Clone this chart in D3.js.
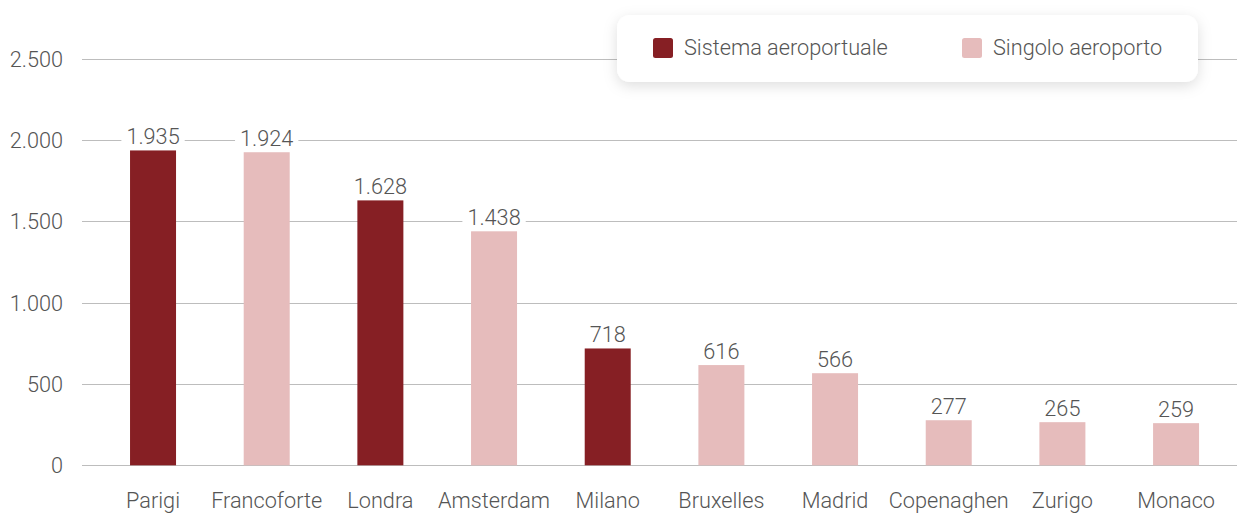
<!DOCTYPE html>
<html><head><meta charset="utf-8">
<script src="https://cdn.jsdelivr.net/npm/d3@7"></script>
<style>
html,body{margin:0;padding:0;background:#fff;}
svg{display:block;font-family:Roboto,"Noto Sans",sans-serif;font-weight:300;}
</style></head>
<body>
<svg id="chart" width="1237" height="513"></svg>
<script>
const categories = ["Parigi","Francoforte","Londra","Amsterdam","Milano","Bruxelles","Madrid","Copenaghen","Zurigo","Monaco"];
const values = [1935,1924,1628,1438,718,616,566,277,265,259];
const types = ["Sistema aeroportuale","Singolo aeroporto","Sistema aeroportuale","Singolo aeroporto","Sistema aeroportuale","Singolo aeroporto","Singolo aeroporto","Singolo aeroporto","Singolo aeroporto","Singolo aeroporto"];
const seriesNames = ["Sistema aeroportuale","Singolo aeroporto"];
const seriesColors = ["#861F24","#E6BCBC"];
const yTicks = [0,500,1000,1500,2000,2500];

const FS = 21.7;
const fmt = v => d3.format(",")(v).replace(/,/g,".");
const svg = d3.select("#chart");
const gridLeft = 82, gridRight = 1237;
const y = d3.scaleLinear().domain([0,2500]).range([465.3,58.5]);
const x = d3.scaleBand().domain(categories).range([96.2,1232.9]).padding(0);
const barW = 46;
const color = d3.scaleOrdinal().domain(seriesNames).range(seriesColors);
const textCol = "#555";

// y axis labels
const yAxis = d3.axisLeft(y).tickValues(yTicks).tickFormat(fmt).tickSize(0).tickPadding(0);
const ga = svg.append("g").attr("transform",`translate(63,0)`).call(yAxis);
ga.select(".domain").remove();
ga.selectAll("text").attr("font-size",FS).attr("fill",textCol).attr("font-family","Roboto").attr("font-weight",300).attr("dy","0.35em");

// grid
svg.append("g").selectAll("line").data(yTicks).join("line")
  .attr("x1",gridLeft).attr("x2",gridRight)
  .attr("y1",d=>Math.round(y(d))+0.5).attr("y2",d=>Math.round(y(d))+0.5)
  .attr("stroke","#bdbdbd").attr("stroke-width",1.2);

// bars
svg.append("g").selectAll("rect").data(categories).join("rect")
  .attr("x",d=>x(d)+(x.bandwidth()-barW)/2)
  .attr("width",barW)
  .attr("y",(d,i)=>y(values[i]))
  .attr("height",(d,i)=>y(0)-y(values[i]))
  .attr("fill",(d,i)=>color(types[i]));

// value labels with white background
const lg = svg.append("g");
categories.forEach((c,i)=>{
  const cx = x(c)+x.bandwidth()/2;
  const by = y(values[i]) - 6.5;
  const t = lg.append("text").attr("x",cx).attr("y",by).attr("text-anchor","middle")
    .attr("font-size",FS).attr("fill",textCol).text(fmt(values[i]));
  const bb = t.node().getBBox();
  lg.insert("rect","text").attr("x",bb.x-5).attr("y",bb.y+2).attr("width",bb.width+10).attr("height",bb.height-4).attr("fill","#fff");
});
lg.selectAll("text").raise();

// x axis labels
const xAxis = d3.axisBottom(x).tickSize(0).tickPadding(0);
const gx = svg.append("g").attr("transform","translate(0,508)").call(xAxis);
gx.select(".domain").remove();
gx.selectAll("text").attr("font-size",FS).attr("fill",textCol).attr("font-family","Roboto").attr("font-weight",300).attr("dy",0);

// legend
const defs = svg.append("defs");
const f = defs.append("filter").attr("id","sh").attr("x","-10%").attr("y","-40%").attr("width","120%").attr("height","190%");
f.append("feDropShadow").attr("dx",0).attr("dy",4).attr("stdDeviation",7).attr("flood-color","#000").attr("flood-opacity",0.13);
const leg = svg.append("g");
leg.append("rect").attr("x",617).attr("y",15).attr("width",581).attr("height",67).attr("rx",13).attr("fill","#fff").attr("filter","url(#sh)");
const legX = [653,962];
seriesNames.forEach((s,i)=>{
  leg.append("rect").attr("x",legX[i]).attr("y",38).attr("width",20).attr("height",20).attr("rx",2.5).attr("fill",color(s));
  leg.append("text").attr("x",legX[i]+31).attr("y",55).attr("font-size",FS).attr("fill",textCol).text(s);
});
</script>
</body></html>
